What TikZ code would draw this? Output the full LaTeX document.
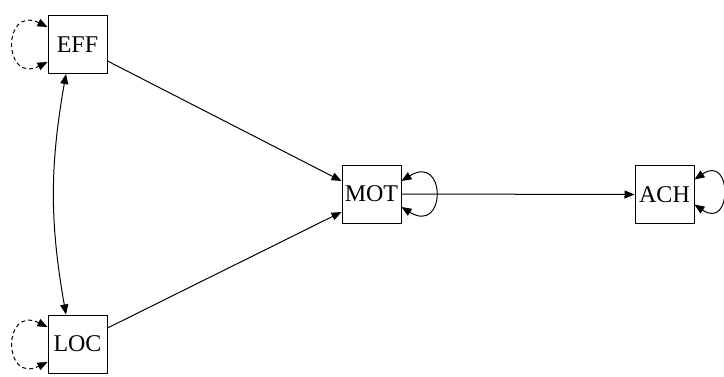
\documentclass[tikz,border=0pt]{standalone}
\usepackage{fontspec}
\setmainfont{Liberation Serif}
\usetikzlibrary{arrows.meta}
\tikzset{%
  tipA/.tip={Triangle[length=10pt,width=8pt]},
  var/.style={draw, line width=1pt, minimum width=59pt, minimum height=58pt,
    inner sep=0pt, font=\fontsize{24}{24}\selectfont},
  path/.style={line width=1pt, -tipA},
  cov/.style={line width=1pt, tipA-tipA}
}

\begin{document}
\begin{tikzpicture}[x=1pt,y=-1pt]
\useasboundingbox (0,0) rectangle (724,376);
% variables
\node[var] (eff) at (77.5,44.5) {EFF};
\node[var] (loc) at (77.5,344) {LOC};
\node[var] (mot) at (371.5,194) {MOT};
\node[var] (ach) at (664.5,194.5) {ACH};
% paths
\draw[path] ([yshift=-16.5pt]eff.east) -- ([yshift=13pt]mot.west);
\draw[path] ([yshift=16pt]loc.east) -- ([yshift=-18pt]mot.west);
\draw[path] (mot.east) -- (ach.west);
% covariance
\draw[cov] ([xshift=-11.5pt]eff.south) to[bend right=10] ([xshift=-11.5pt]loc.north);
% variances
\draw[cov, dash pattern=on 4pt off 3pt] ([yshift=17.5pt]eff.west) .. controls +(-45,-22) and +(-45,22) .. ([yshift=-17.5pt]eff.west);
\draw[cov, dash pattern=on 4pt off 3pt] ([yshift=17pt]loc.west) .. controls +(-45,-22) and +(-45,22) .. ([yshift=-18pt]loc.west);
\draw[cov] ([yshift=13pt]mot.east) .. controls +(45,-28) and +(45,28) .. ([yshift=-13pt]mot.east);
\draw[cov] ([yshift=15pt]ach.east) .. controls +(38,-26) and +(38,26) .. ([yshift=-10pt]ach.east);
\end{tikzpicture}
\end{document}
